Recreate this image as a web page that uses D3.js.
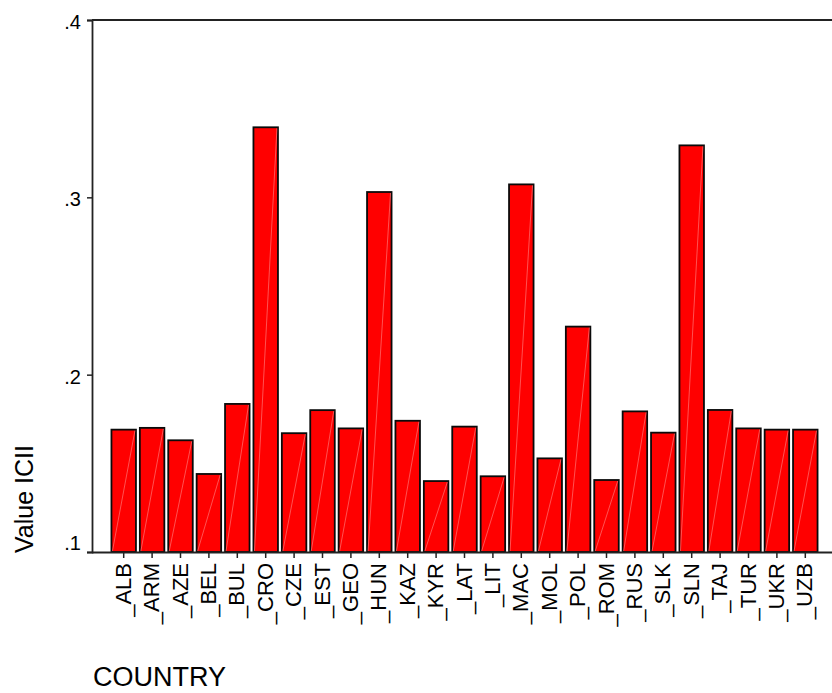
<!DOCTYPE html>
<html>
<head>
<meta charset="utf-8">
<script src="https://cdn.jsdelivr.net/npm/d3@7"></script>
<style>
  html, body { margin: 0; padding: 0; background: #fff; }
  svg { display: block; }
  text { font-family: Arial, "Liberation Sans", sans-serif; fill: #000; }
</style>
</head>
<body>
<svg id="chart" width="832" height="693"></svg>
<script>
const categories = ["_ALB","_ARM","_AZE","_BEL","_BUL","_CRO","_CZE","_EST","_GEO","_HUN","_KAZ","_KYR","_LAT","_LIT","_MAC","_MOL","_POL","_ROM","_RUS","_SLK","_SLN","_TAJ","_TUR","_UKR","_UZB"];
const values = [0.169,0.170,0.163,0.144,0.1835,0.3395,0.167,0.180,0.1697,0.303,0.174,0.140,0.1707,0.1427,0.3073,0.1528,0.2271,0.1406,0.1793,0.1673,0.3293,0.1801,0.1697,0.169,0.169];
const yTicks = [0.1, 0.2, 0.3, 0.4];
const yLabel = "Value ICII";
const xLabel = "COUNTRY";

(function () {
const svg = d3.select("#chart");
const pLeft = 92, pRight = 832, pTop = 20, pBottom = 552;

const x = d3.scaleBand()
  .domain(categories)
  .range([109.5, 819.5])
  .paddingInner(0.137)
  .paddingOuter(0.0685);

const y = d3.scaleLinear().domain([0.1, 0.4]).range([pBottom, pTop]);

// Bars
const bars = svg.append("g");
categories.forEach((c, i) => {
  const x0 = x(c), w = x.bandwidth(), yv = y(values[i]);
  bars.append("rect")
    .attr("x", x0).attr("y", yv)
    .attr("width", w).attr("height", pBottom - yv)
    .attr("fill", "#ff0000")
    .attr("stroke", "#0a0a0a")
    .attr("stroke-width", 1.8);
  bars.append("line")
    .attr("x1", x0 + 1).attr("y1", pBottom - 1)
    .attr("x2", x0 + w - 1).attr("y2", yv + 1)
    .attr("stroke", "#ff8a8a")
    .attr("stroke-width", 0.6);
});

// Top frame line
svg.append("line")
  .attr("x1", pLeft).attr("x2", pRight)
  .attr("y1", pTop).attr("y2", pTop)
  .attr("stroke", "#222").attr("stroke-width", 1.8);

// Y axis
const fmt = d => d3.format(".1f")(d).replace(/^0/, "");
const yAxis = svg.append("g")
  .attr("transform", `translate(${pLeft},0)`)
  .call(d3.axisLeft(y).tickValues(yTicks).tickFormat(fmt).tickSize(5).tickPadding(6));
yAxis.attr("font-size", 20).attr("font-family", "Arial, 'Liberation Sans', sans-serif");
yAxis.select(".domain").attr("stroke", "#222").attr("stroke-width", 1.8);
yAxis.selectAll(".tick line").attr("stroke", "#222").attr("stroke-width", 1.5);
yAxis.selectAll(".tick text")
  .attr("fill", "#000")
  .attr("dy", d => d === 0.1 ? "-0.12em" : "0.42em");

// X axis
const xAxis = svg.append("g")
  .attr("transform", `translate(0,${pBottom})`)
  .call(d3.axisBottom(x).tickSize(6).tickSizeOuter(0));
xAxis.attr("font-size", 22).attr("font-family", "Arial, 'Liberation Sans', sans-serif");
xAxis.select(".domain").attr("d", `M${pLeft},0.5H${pRight}`).attr("stroke", "#222").attr("stroke-width", 1.8);
xAxis.selectAll(".tick line").attr("stroke", "#222").attr("stroke-width", 1.5);
xAxis.selectAll(".tick text")
  .attr("fill", "#000")
  .attr("text-anchor", "end")
  .attr("dy", null)
  .attr("y", 0)
  .attr("transform", "translate(7,11) rotate(-90)");

// Axis titles
svg.append("text")
  .attr("transform", `translate(33,553) rotate(-90)`)
  .attr("text-anchor", "start")
  .attr("font-size", 25)
  .text(yLabel);

svg.append("text")
  .attr("x", 93).attr("y", 686)
  .attr("font-size", 27)
  .text(xLabel);
})();
</script>
</body>
</html>
